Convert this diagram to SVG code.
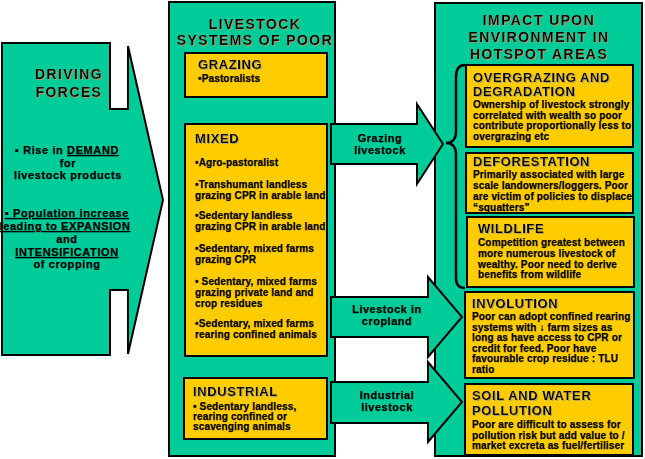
<svg xmlns="http://www.w3.org/2000/svg" width="645" height="459" viewBox="0 0 645 459">
<defs>
<filter id="sh" x="-5%" y="-20%" width="110%" height="140%"><feDropShadow dx="1" dy="1" stdDeviation="0" flood-color="#a8a070" flood-opacity="0.9"/></filter>
</defs>
<style>
text{font-family:"Liberation Sans",Arial,Helvetica,sans-serif;font-weight:bold;fill:#000}
.teal{fill:#00CC99;stroke:#000;stroke-width:2}
.gold{fill:#FFCC00;stroke:#000;stroke-width:2}
.title{font-size:14px;letter-spacing:1.4px;text-anchor:middle}
.hd{font-size:13px;letter-spacing:0.6px}
.sh{filter:url(#sh)}
.b{font-size:10px;letter-spacing:0.15px;stroke:#000;stroke-width:0.25px}
.lb{font-size:11px;letter-spacing:0.6px;text-anchor:middle;stroke:#000;stroke-width:0.25px}
.al{font-size:11px;letter-spacing:0.5px;text-anchor:middle;stroke:#000;stroke-width:0.25px}
.u{text-decoration:underline}
</style>
<rect width="645" height="459" fill="#fff"/>

<g id="driving-forces">
<polygon class="teal" points="2,43 110,43 110,109 128,109 128,46 163,200 128,354 128,290 110,290 110,355 2,355"/>
<text class="title sh" x="69" y="79">DRIVING</text>
<text class="title sh" x="69" y="97">FORCES</text>
<text class="lb" x="67" y="154">▪ Rise in <tspan class="u">DEMAND</tspan></text>
<text class="lb" x="68" y="167">for</text>
<text class="lb" x="68" y="179">livestock products</text>
<text class="lb u" x="67" y="217">▪ Population increase</text>
<text class="lb u" x="65" y="230">leading to EXPANSION</text>
<text class="lb" x="67" y="243">and</text>
<text class="lb u" x="67" y="256">INTENSIFICATION</text>
<text class="lb" x="67" y="268">of cropping</text>
</g>

<g id="livestock-systems">
<rect class="teal" x="169" y="2" width="166" height="454"/>
<text class="title sh" x="255" y="29">LIVESTOCK</text>
<text class="title sh" x="255" y="45">SYSTEMS OF POOR</text>
</g>

<g id="grazing">
<rect class="gold" x="185" y="53" width="142" height="44"/>
<text class="hd sh" x="198" y="69">GRAZING</text>
<text class="b" x="198" y="82">•Pastoralists</text>
</g>

<g id="mixed">
<rect class="gold" x="185" y="124" width="142" height="232"/>
<text class="hd sh" x="195" y="143">MIXED</text>
<text class="b" x="195" y="166">•Agro-pastoralist</text>
<text class="b" x="195" y="188">•Transhumant landless</text>
<text class="b" x="195" y="199">grazing CPR in arable land</text>
<text class="b" x="195" y="219">•Sedentary landless</text>
<text class="b" x="195" y="230">grazing CPR in arable land</text>
<text class="b" x="195" y="252">•Sedentary, mixed farms</text>
<text class="b" x="195" y="263">grazing CPR</text>
<text class="b" x="195" y="285">• Sedentary, mixed farms</text>
<text class="b" x="195" y="296">grazing private land and</text>
<text class="b" x="195" y="307">crop residues</text>
<text class="b" x="195" y="327">•Sedentary, mixed farms</text>
<text class="b" x="195" y="338">rearing confined animals</text>
</g>

<g id="industrial">
<rect class="gold" x="184" y="378" width="143" height="61"/>
<text class="hd sh" x="193" y="396">INDUSTRIAL</text>
<text class="b" x="193" y="410">• Sedentary landless,</text>
<text class="b" x="193" y="420">rearing confined or</text>
<text class="b" x="193" y="430">scavenging animals</text>
</g>

<g id="impact">
<rect class="teal" x="435" y="3" width="207" height="453"/>
<text class="title sh" x="539" y="25">IMPACT UPON</text>
<text class="title sh" x="539" y="42">ENVIRONMENT IN</text>
<text class="title sh" x="539" y="59">HOTSPOT AREAS</text>
<path d="M465,65 C459,65 456,69 456,77 L456,132 C456,139 452,143 446,143 C452,143 456,147 456,154 L456,278 C456,285 459,288 465,288" fill="none" stroke="#000" stroke-width="2.5"/>
</g>

<g id="overgrazing">
<rect class="gold" x="466" y="65" width="167" height="82"/>
<text class="hd sh" x="473" y="82">OVERGRAZING AND</text>
<text class="hd sh" x="473" y="96">DEGRADATION</text>
<text class="b" x="473" y="108">Ownership of livestock strongly</text>
<text class="b" x="473" y="118.5">correlated with wealth so poor</text>
<text class="b" x="473" y="129">contribute proportionally less to</text>
<text class="b" x="473" y="139.5">overgrazing etc</text>
</g>

<g id="deforestation">
<rect class="gold" x="466" y="153" width="167" height="60"/>
<text class="hd sh" x="473" y="166">DEFORESTATION</text>
<text class="b" x="473" y="178">Primarily associated with large</text>
<text class="b" x="473" y="189">scale landowners/loggers. Poor</text>
<text class="b" x="473" y="200">are victim of policies to displace</text>
<text class="b" x="473" y="211">“squatters”</text>
</g>

<g id="wildlife">
<rect class="gold" x="467" y="217" width="167" height="70"/>
<text class="hd sh" x="478" y="233">WILDLIFE</text>
<text class="b" x="478" y="246">Competition greatest between</text>
<text class="b" x="478" y="257">more numerous livestock of</text>
<text class="b" x="478" y="267.5">wealthy.  Poor need to derive</text>
<text class="b" x="478" y="277.5">benefits from wildlife</text>
</g>

<g id="involution">
<rect class="gold" x="465" y="292" width="169" height="86"/>
<text class="hd sh" x="472" y="308">INVOLUTION</text>
<text class="b" x="472" y="320">Poor can adopt confined rearing</text>
<text class="b" x="472" y="330.5">systems with ↓ farm sizes as</text>
<text class="b" x="472" y="341">long as have access to CPR or</text>
<text class="b" x="472" y="351.5">credit for feed.  Poor have</text>
<text class="b" x="472" y="362">favourable crop residue : TLU</text>
<text class="b" x="472" y="372.5">ratio</text>
</g>

<g id="soil-water">
<rect class="gold" x="465" y="384" width="168" height="71"/>
<text class="hd sh" x="472" y="400">SOIL AND WATER</text>
<text class="hd sh" x="472" y="415">POLLUTION</text>
<text class="b" x="472" y="428">Poor are difficult to assess for</text>
<text class="b" x="472" y="438.5">pollution risk but add value to /</text>
<text class="b" x="472" y="449">market excreta as fuel/fertiliser</text>
</g>

<g id="connectors">
<polygon class="teal" points="331,124 417,124 417,104 443,144 417,184 417,164 331,164"/>
<text class="al" x="380" y="142">Grazing</text>
<text class="al" x="380" y="154">livestock</text>
<polygon class="teal" points="331,297 428,297 428,277 462,317 428,357 428,337 331,337"/>
<text class="al" x="387" y="313">Livestock in</text>
<text class="al" x="387" y="325">cropland</text>
<polygon class="teal" points="331,382 428,382 428,362 462,402 428,442 428,423 331,423"/>
<text class="al" x="387" y="399">Industrial</text>
<text class="al" x="387" y="411">livestock</text>
</g>
</svg>
